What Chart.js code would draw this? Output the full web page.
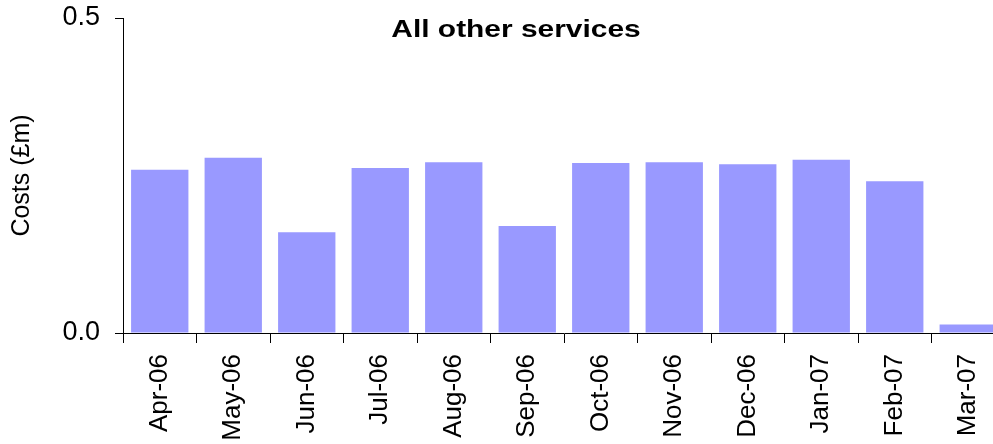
<!DOCTYPE html>
<html lang="en">
<head>
    <meta charset="UTF-8">
    <title>All other services</title>
    <script src="https://cdn.jsdelivr.net/npm/chart.js"></script>
    <style>
        html, body {
            margin: 0;
            padding: 0;
            background: #fff;
            overflow: hidden;
        }

        #cost-chart {
            display: block;
        }
    </style>
</head>
<body>
    <canvas id="cost-chart" width="1005" height="444"></canvas>
    <script>
        const months = ['Apr-06', 'May-06', 'Jun-06', 'Jul-06', 'Aug-06', 'Sep-06',
                        'Oct-06', 'Nov-06', 'Dec-06', 'Jan-07', 'Feb-07', 'Mar-07'];
        const costs = [0.259, 0.278, 0.160, 0.262, 0.271, 0.170,
                       0.270, 0.271, 0.268, 0.275, 0.241, 0.0135];
        const yTicks = [0.0, 0.5];
        const chartTitle = 'All other services';
        const yTitle = 'Costs (£m)';

        const font = "'Liberation Sans', Arial, sans-serif";

        // the title in the reference is drawn wide, so stretch it sideways
        const titlePlugin = {
            id: 'innerTitle',
            afterDraw(chart) {
                const ctx = chart.ctx;
                ctx.save();
                ctx.translate(516, 31);
                ctx.scale(1.3, 1);
                ctx.font = 'bold 23px ' + font;
                ctx.fillStyle = '#000';
                ctx.textAlign = 'center';
                ctx.textBaseline = 'middle';
                ctx.fillText(chartTitle, 0, 0);
                ctx.restore();
            }
        };

        new Chart(document.getElementById('cost-chart'), {
            type: 'bar',
            data: {
                labels: months,
                datasets: [{
                    data: costs,
                    backgroundColor: '#9999ff',
                    borderWidth: 0,
                    categoryPercentage: 1.0,
                    barPercentage: 0.78,
                }],
            },
            options: {
                responsive: false,
                animation: false,
                devicePixelRatio: 1,
                layout: { padding: { top: 18, left: 0, right: 0, bottom: 0 } },
                plugins: {
                    legend: { display: false },
                    tooltip: { enabled: false },
                },
                scales: {
                    x: {
                        afterFit: (scale) => {
                            scale.height = 111;
                            scale.paddingLeft = 0;
                            scale.paddingRight = 0;
                        },
                        grid: {
                            offset: true,
                            drawOnChartArea: false,
                            drawTicks: true,
                            tickLength: 10,
                            color: '#000',
                        },
                        border: { color: '#000', width: 1 },
                        ticks: {
                            autoSkip: false,
                            maxRotation: 90,
                            minRotation: 90,
                            padding: 11,
                            color: '#000',
                            font: { family: font, size: 26 },
                        },
                    },
                    y: {
                        min: 0,
                        max: 0.5,
                        afterFit: (scale) => {
                            scale.width = 123;
                            scale.paddingTop = 0;
                            scale.paddingBottom = 0;
                        },
                        afterBuildTicks: (scale) => {
                            scale.ticks = yTicks.map(v => ({ value: v }));
                        },
                        grid: {
                            drawOnChartArea: false,
                            drawTicks: true,
                            tickLength: 8,
                            color: '#000',
                        },
                        border: { color: '#000', width: 1 },
                        ticks: {
                            padding: 15,
                            color: '#000',
                            font: { family: font, size: 27 },
                            callback: (v) => Number(v).toFixed(1),
                        },
                        title: {
                            display: true,
                            text: yTitle,
                            color: '#000',
                            padding: { top: 7, bottom: 0 },
                            font: { family: font, size: 25 },
                        },
                    },
                },
            },
            plugins: [titlePlugin],
        });
    </script>
</body>
</html>
